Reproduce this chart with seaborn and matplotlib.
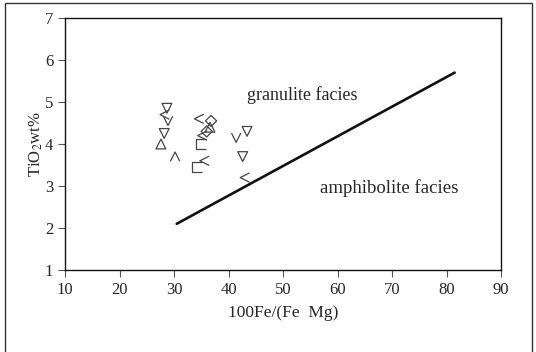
import numpy as np
import pandas as pd
import matplotlib
matplotlib.use("Agg")
import matplotlib.pyplot as plt
from matplotlib.path import Path
from matplotlib.patches import Rectangle
import seaborn as sns

# ---- data ----
tri_down_x = [28.7, 28.2, 43.4, 42.6]
tri_down_y = [4.85, 4.25, 4.30, 3.70]
chev_left_x = [28.3, 34.6, 35.6, 43.0, 35.2]
chev_left_y = [4.70, 4.60, 3.60, 3.20, 4.20]
tri_up_x = [27.6, 36.6]
tri_up_y = [4.00, 4.40]
bracket_x = [34.2, 35.0]
bracket_y = [3.45, 4.00]
chev_up_x = [30.2]
chev_up_y = [3.70]
chev_down_x = [41.4, 28.9]
chev_down_y = [4.15, 4.55]
diamond_x = [36.0, 36.8]
diamond_y = [4.30, 4.55]
line_x = [30.5, 81.5]
line_y = [2.10, 5.70]
x_ticks = [10, 20, 30, 40, 50, 60, 70, 80, 90]
y_ticks = [1, 2, 3, 4, 5, 6, 7]

# custom open markers
chev_left = Path([(0.5, 0.5), (-0.5, 0.0), (0.5, -0.5)],
                 [Path.MOVETO, Path.LINETO, Path.LINETO])
chev_up = Path([(-0.5, -0.5), (0.0, 0.5), (0.5, -0.5)],
               [Path.MOVETO, Path.LINETO, Path.LINETO])
chev_down = Path([(-0.5, 0.5), (0.0, -0.5), (0.5, 0.5)],
                 [Path.MOVETO, Path.LINETO, Path.LINETO])
bracket = Path([(0.5, 0.5), (-0.5, 0.5), (-0.5, -0.5), (0.5, -0.5)],
               [Path.MOVETO, Path.LINETO, Path.LINETO, Path.LINETO])

sns.set_style("ticks")
plt.rcParams['font.family'] = ['Liberation Serif', 'DejaVu Serif']
plt.rcParams['mathtext.fontset'] = 'stix'

fig = plt.figure(figsize=(5.36, 3.52), dpi=100)
ax = fig.add_axes([65/536, 1 - 270/352, (501-65)/536, (270-18)/352])

mcol = '#444444'
sns.lineplot(x=line_x, y=line_y, ax=ax, color='#111111', linewidth=1.9)

def pts(xs, ys, marker, size=50):
    sns.scatterplot(x=xs, y=ys, ax=ax, marker=marker, s=size,
                    facecolors='none', edgecolor=mcol, linewidth=0.9)

pts(tri_down_x, tri_down_y, 'v')
pts(tri_up_x, tri_up_y, '^')
pts(diamond_x, diamond_y, 'D', size=32)
pts(chev_left_x, chev_left_y, chev_left, size=45)
pts(chev_up_x, chev_up_y, chev_up, size=45)
pts(chev_down_x, chev_down_y, chev_down, size=45)
pts(bracket_x, bracket_y, bracket, size=50)

ax.text(53.5, 5.17, 'granulite facies', ha='center', va='center', fontsize=13)
ax.text(69.5, 2.95, 'amphibolite facies', ha='center', va='center', fontsize=13.5)

ax.set_xlim(10, 90)
ax.set_ylim(1, 7)
ax.set_xticks(x_ticks)
ax.set_yticks(y_ticks)
ax.tick_params(labelsize=12, length=5, width=0.8, color='#555555', direction='out')
for s in ax.spines.values():
    s.set_visible(True)
    s.set_linewidth(1.0)
    s.set_color('#111111')
ax.set_xlabel('100Fe/(Fe  Mg)', fontsize=12.5, labelpad=5)
ax.set_ylabel('TiO$_2$wt%', fontsize=12)
ax.yaxis.set_label_coords(-0.046, 0.5)

# outer frame of the figure
fig.add_artist(Rectangle((5/536, -0.05), (532-5)/536, 1.05 - 3/352,
                         transform=fig.transFigure, fill=False,
                         edgecolor='#333333', linewidth=1.0))

fig.savefig('out.png', dpi=100)
